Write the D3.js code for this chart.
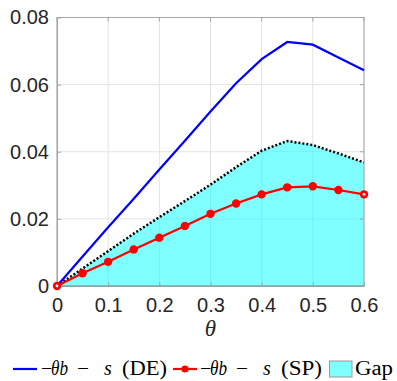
<!DOCTYPE html>
<html><head><meta charset="utf-8">
<script src="https://cdn.jsdelivr.net/npm/d3@7"></script>
<style>body{margin:0;background:#fff}svg{display:block}</style>
</head><body>
<svg id="c" width="397" height="381"></svg>
<script>
const thetaDE = [0,0.05,0.1,0.15,0.2,0.25,0.3,0.35,0.4,0.45,0.5,0.55,0.6];
const valDE   = [0,0.0088,0.0175,0.026,0.0347,0.0433,0.052,0.0604,0.0676,0.0727,0.0719,0.0681,0.0643];
const thetaSP = [0,0.05,0.1,0.15,0.2,0.25,0.3,0.35,0.4,0.45,0.5,0.55,0.6];
const valSP   = [0,0.0038,0.0072,0.0109,0.0144,0.0179,0.0215,0.0246,0.0273,0.0294,0.0297,0.0286,0.0273];
const thetaGap = [0,0.05,0.1,0.15,0.2,0.25,0.3,0.35,0.4,0.45,0.5,0.55,0.6];
const valGap   = [0,0.0052,0.0104,0.0156,0.0205,0.0253,0.0302,0.0354,0.0403,0.0432,0.042,0.0395,0.0368];
const xTicks = [0,0.1,0.2,0.3,0.4,0.5,0.6];
const yTicks = [0,0.02,0.04,0.06,0.08];
const yTickLabels = ["0","0.02","0.04","0.06","0.08"];
const xTickLabels = ["0","0.1","0.2","0.3","0.4","0.5","0.6"];
const legendTags = ["(DE)","(SP)","Gap"];

const svg = d3.select("#c");
const L=57, R=364, T=17.5, B=286;
const x = d3.scaleLinear().domain([0,0.6]).range([L,R]);
const y = d3.scaleLinear().domain([0,0.08]).range([B,T]);

// grid
const g = svg.append("g");
g.selectAll(".gx").data(xTicks).join("line")
  .attr("x1",d=>x(d)).attr("x2",d=>x(d)).attr("y1",T).attr("y2",B)
  .attr("stroke","#e3e3e3").attr("stroke-width",1);
g.selectAll(".gy").data(yTicks).join("line")
  .attr("y1",d=>y(d)).attr("y2",d=>y(d)).attr("x1",L).attr("x2",R)
  .attr("stroke","#e3e3e3").attr("stroke-width",1);

// gap area
const gapData = thetaGap.map((t,i)=>[t,valGap[i]]);
svg.append("path").datum(gapData)
  .attr("d", d3.area().x(d=>x(d[0])).y0(y(0)).y1(d=>y(d[1])))
  .attr("fill","rgba(0,255,255,0.5)");
svg.append("path").datum(gapData)
  .attr("d", d3.line().x(d=>x(d[0])).y(d=>y(d[1])))
  .attr("fill","none").attr("stroke","#000").attr("stroke-width",2.5)
  .attr("stroke-dasharray","2,2");

// axes box
const xAxis = d3.axisBottom(x).tickValues(xTicks).tickFormat((d,i)=>xTickLabels[i]).tickSizeInner(-4).tickSizeOuter(0).tickPadding(10);
const yAxis = d3.axisLeft(y).tickValues(yTicks).tickFormat((d,i)=>yTickLabels[i]).tickSizeInner(-4).tickSizeOuter(0).tickPadding(8);
const ax = svg.append("g").attr("transform",`translate(0,${B})`).call(xAxis);
const ay = svg.append("g").attr("transform",`translate(${L},0)`).call(yAxis);
[ax,ay].forEach(a=>{
  a.selectAll("path,line").attr("stroke","#a6a6a6");
  a.selectAll("text").attr("fill","#262626").attr("font-family","Liberation Sans, Arial, sans-serif").attr("font-size",20);
});
ax.selectAll("text").attr("dy","0.8em");
svg.append("line").attr("x1",L).attr("x2",R).attr("y1",B).attr("y2",B).attr("stroke","#4aa8a8").attr("stroke-width",1);
svg.append("rect").attr("x",L).attr("y",T).attr("width",R-L).attr("height",B-T)
  .attr("fill","none").attr("stroke","#a6a6a6").attr("stroke-width",1);
svg.selectAll(".tr").data(yTicks).join("line")
  .attr("x1",R).attr("x2",R-4).attr("y1",d=>y(d)).attr("y2",d=>y(d)).attr("stroke","#a6a6a6");
svg.selectAll(".tt").data(xTicks).join("line")
  .attr("y1",T).attr("y2",T+4).attr("x1",d=>x(d)).attr("x2",d=>x(d)).attr("stroke","#a6a6a6");

// DE line
svg.append("path").datum(thetaDE.map((t,i)=>[t,valDE[i]]))
  .attr("d", d3.line().x(d=>x(d[0])).y(d=>y(d[1])))
  .attr("fill","none").attr("stroke","#0000ff").attr("stroke-width",2.2);

// SP line
const spData = thetaSP.map((t,i)=>[t,valSP[i]]);
svg.append("path").datum(spData)
  .attr("d", d3.line().x(d=>x(d[0])).y(d=>y(d[1])))
  .attr("fill","none").attr("stroke","#ff0000").attr("stroke-width",2.2);
svg.selectAll(".m").data(spData).join("circle")
  .attr("cx",d=>x(d[0])).attr("cy",d=>y(d[1])).attr("r",4.2).attr("fill","#ff0000");
svg.selectAll(".mw").data([spData[0],spData[spData.length-1]]).join("circle")
  .attr("cx",d=>x(d[0])).attr("cy",d=>y(d[1])).attr("r",1.4).attr("fill","#fff");

// x label
svg.append("text").attr("x",x(0.3)).attr("y",336).attr("text-anchor","middle")
  .attr("font-family","Liberation Serif, serif").attr("font-style","italic").attr("font-size",23)
  .attr("fill","#262626").text("θ");

// legend
const leg = svg.append("g").attr("font-family","Liberation Serif, serif").attr("font-size",20).attr("fill","#000");
leg.append("line").attr("x1",13).attr("x2",37).attr("y1",369).attr("y2",369).attr("stroke","#0000ff").attr("stroke-width",2.2);
leg.append("line").attr("x1",173).attr("x2",197).attr("y1",369).attr("y2",369).attr("stroke","#ff0000").attr("stroke-width",2.2);
leg.append("circle").attr("cx",185).attr("cy",369).attr("r",3.6).attr("fill","#ff0000");
function entry(x0, tag, tagW){
  const by = 375;
  leg.append("text").attr("x",x0).attr("y",by).text("−");
  leg.append("text").attr("x",x0+10).attr("y",by).attr("font-style","italic").attr("textLength",17).attr("lengthAdjust","spacingAndGlyphs").text("θb");
  leg.append("text").attr("x",x0+36).attr("y",by).attr("textLength",12).attr("lengthAdjust","spacingAndGlyphs").text("−");
  leg.append("text").attr("x",x0+63).attr("y",by).attr("font-style","italic").text("s");
  leg.append("text").attr("x",x0+81).attr("y",by).attr("textLength",tagW).attr("lengthAdjust","spacingAndGlyphs").text(tag);
}
entry(41,legendTags[0],45);
entry(200,legendTags[1],41);
leg.append("rect").attr("x",329.5).attr("y",361).attr("width",22.5).attr("height",16)
  .attr("fill","rgba(0,255,255,0.5)").attr("stroke","#999").attr("stroke-width",1);
leg.append("text").attr("x",355).attr("y",375).attr("textLength",38).attr("lengthAdjust","spacingAndGlyphs").text(legendTags[2]);
</script>
</body></html>
